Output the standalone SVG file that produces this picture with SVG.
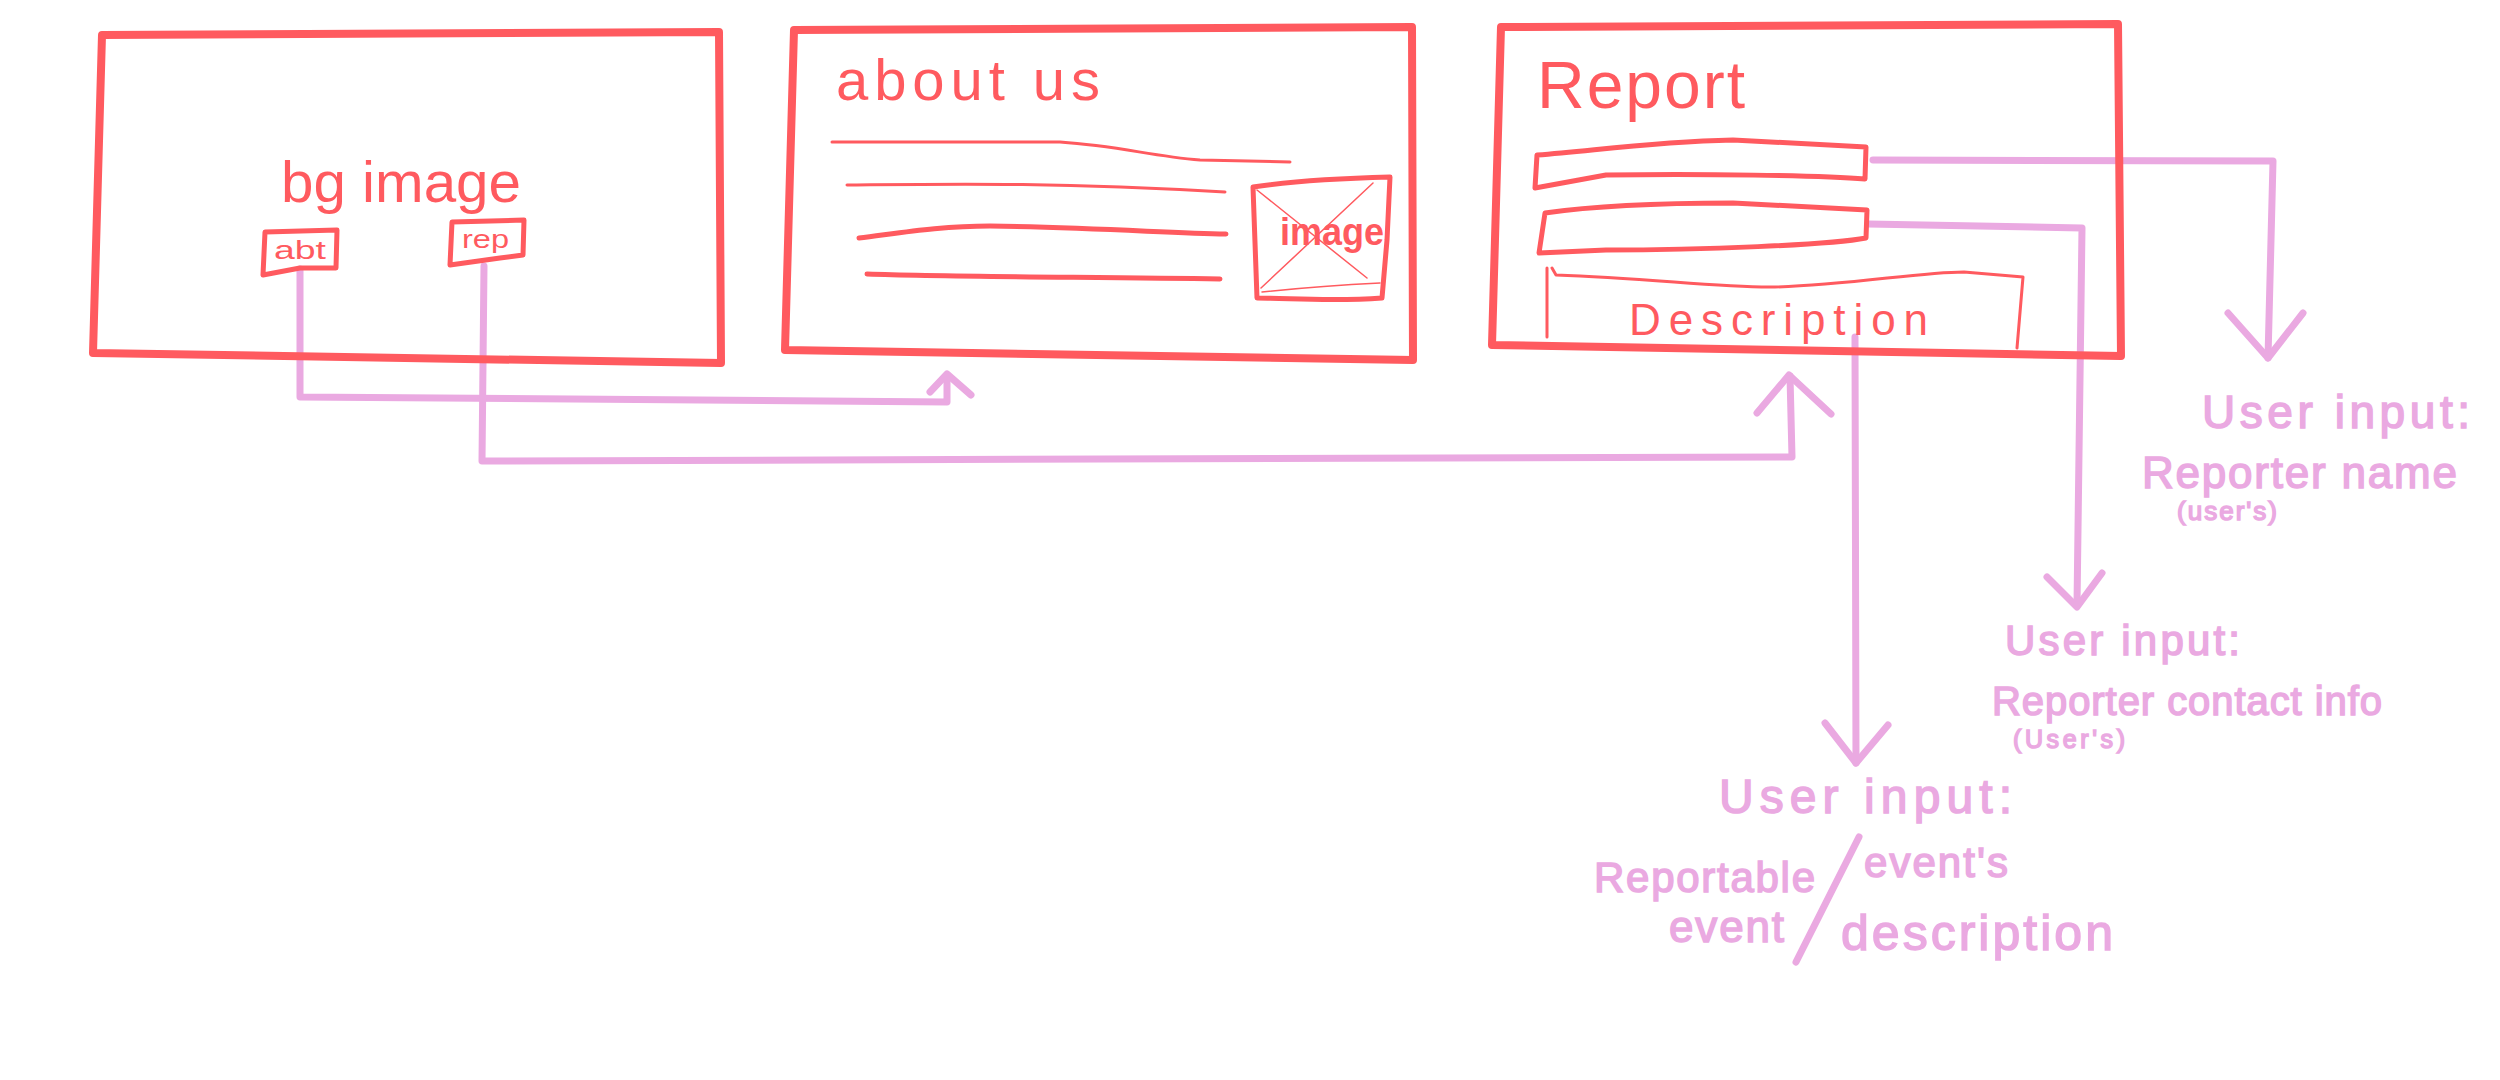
<svg xmlns="http://www.w3.org/2000/svg" width="2500" height="1080" viewBox="0 0 2500 1080">
<style>
.frame{fill:none;stroke:#FF5A5F;stroke-width:8;stroke-linecap:round;stroke-linejoin:round}
.ink{fill:none;stroke:#FF5A5F;stroke-width:5;stroke-linecap:round;stroke-linejoin:round}
.thin{fill:none;stroke:#FF5A5F;stroke-width:3;stroke-linecap:round;stroke-linejoin:round}
.hair{fill:none;stroke:#FF5A5F;stroke-width:1.5;stroke-linecap:round}
.red{fill:#FF5A5F;font-family:"Liberation Sans",Arial,sans-serif}
.conn{fill:none;stroke:#EAA9E1;stroke-width:7;stroke-linecap:round;stroke-linejoin:round}
.pink{fill:#EAA9E1;stroke:#EAA9E1;stroke-width:1.5;font-family:"Liberation Sans",Arial,sans-serif}
</style>
<rect width="2500" height="1080" fill="#ffffff"/>

<g id="connectors">
  <path class="conn" d="M300,269 L300,397 L947,402 L947,376" stroke-width="6"/>
  <path class="conn" d="M930,392 L947,374 L971,395" stroke-width="6"/>
  <path class="conn" d="M484,266 L482,461 L1792,457 L1790,376" stroke-width="6"/>
  <path class="conn" d="M1757,413 L1789,375 L1831,414" stroke-width="6"/>
  <path class="conn" d="M1873,160 L2273,161 L2268,358"/>
  <path class="conn" d="M2228,313 L2268,358 L2303,313"/>
  <path class="conn" d="M1868,224 L2082,228 L2077,605"/>
  <path class="conn" d="M2047,577 L2077,607 L2102,573"/>
  <path class="conn" d="M1855,337 L1856,763" stroke-width="9"/>
  <path class="conn" d="M1825,723 L1856,763 L1888,725" stroke-width="9"/>
</g>

<g id="bg-image">
  <path class="frame" d="M102,35 L719,32 L721,363 L93,353 Z"/>
  <text class="red" x="281" y="202" font-size="58" textLength="240" lengthAdjust="spacingAndGlyphs">bg image</text>
  <g id="abt">
    <path class="ink" d="M265,232 L337,230 L336,268 L300,268 L263,275 Z"/>
    <text class="red" x="274" y="259" font-size="26" textLength="52" lengthAdjust="spacingAndGlyphs">abt</text>
  </g>
  <g id="rep">
    <path class="ink" d="M452,222 L524,220 L523,255 L500,258 L450,265 Z"/>
    <text class="red" x="462" y="248" font-size="26" textLength="47" lengthAdjust="spacingAndGlyphs">rep</text>
  </g>
</g>

<g id="about-us">
  <path class="frame" d="M794,30 L1412,27 L1413,360 L785,350 Z"/>
  <text class="red" x="836" y="100" font-size="58" textLength="264" lengthAdjust="spacing">about us</text>
  <path class="thin" d="M832,142 L1060,142 C1120,146 1150,156 1200,160 L1290,162"/>
  <path class="thin" d="M847,185 C950,184 1050,182 1225,192"/>
  <path class="ink" d="M859,238 C900,233 940,226 990,226 C1100,228 1170,233 1226,234" stroke-width="4"/>
  <path class="ink" d="M867,274 C950,277 1100,277 1220,279" stroke-width="4"/>
  <g id="about-image">
    <path class="ink" d="M1253,187 C1300,180 1350,178 1390,177 L1387,240 L1382,298 C1330,302 1290,298 1257,298 Z"/>
    <path class="hair" d="M1257,190 L1367,278 M1373,183 L1261,288 M1262,292 C1300,288 1340,285 1380,283"/>
    <text class="red" x="1280" y="245" font-size="38" font-weight="bold" textLength="104" lengthAdjust="spacingAndGlyphs">image</text>
  </g>
</g>

<g id="report">
  <path class="frame" d="M1501,27 L2118,24 L2121,356 L1492,345 Z"/>
  <text class="red" x="1537" y="108" font-size="66" textLength="208" lengthAdjust="spacing">Report</text>
  <g id="field-name">
    <path class="ink" d="M1537,155 C1600,150 1650,142 1733,140 L1866,147 L1865,179 C1820,175 1700,174 1606,175 L1535,188 Z"/>
  </g>
  <g id="field-contact">
    <path class="ink" d="M1545,213 C1600,205 1680,203 1733,203 L1867,210 L1866,238 C1830,245 1700,250 1606,250 L1539,253 Z"/>
  </g>
  <g id="field-description">
    <path class="thin" d="M1547,268 L1547,337"/>
    <path class="thin" d="M1552,268 L1556,275 C1650,278 1720,288 1775,287 C1850,285 1920,272 1964,272 L2023,277 L2017,348"/>
    <text class="red" x="1629" y="335" font-size="44" textLength="299" lengthAdjust="spacing">Description</text>
  </g>
</g>

<g id="label-name">
  <text class="pink" x="2202" y="428" font-size="46" textLength="268" lengthAdjust="spacing">User input:</text>
  <text class="pink" x="2142" y="488" font-size="44" textLength="315" lengthAdjust="spacing">Reporter name</text>
  <text class="pink" x="2177" y="520" font-size="26" stroke-width="0.5" textLength="100" lengthAdjust="spacing">(user's)</text>
</g>

<g id="label-contact">
  <text class="pink" x="2005" y="655" font-size="42" stroke-width="0.8" textLength="235" lengthAdjust="spacing">User input:</text>
  <text class="pink" x="1992" y="715" font-size="40" stroke-width="0.8" textLength="390" lengthAdjust="spacing">Reporter contact info</text>
  <text class="pink" x="2013" y="748" font-size="25" stroke-width="0.5" textLength="112" lengthAdjust="spacing">(User's)</text>
</g>

<g id="label-description">
  <text class="pink" x="1719" y="813" font-size="48" textLength="293" lengthAdjust="spacing">User input:</text>
  <text class="pink" x="1594" y="892" font-size="42" textLength="221" lengthAdjust="spacing">Reportable</text>
  <path class="conn" d="M1859,837 L1796,962" stroke-width="8"/>
  <text class="pink" x="1864" y="877" font-size="42" textLength="144" lengthAdjust="spacing">event's</text>
  <text class="pink" x="1669" y="942" font-size="44" stroke-width="0.8" textLength="115" lengthAdjust="spacing">event</text>
  <text class="pink" x="1841" y="950" font-size="50" stroke-width="0.8" textLength="272" lengthAdjust="spacing">description</text>
</g>
</svg>
